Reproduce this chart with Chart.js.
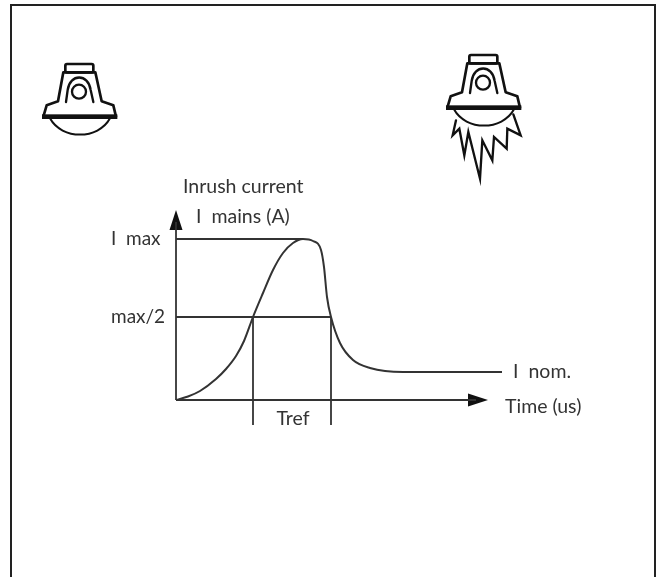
<!DOCTYPE html>
<html>
<head>
<meta charset="utf-8">
<title>Inrush current</title>
<script src="https://cdn.jsdelivr.net/npm/chart.js@4"></script>
<style>
    html, body { margin: 0; padding: 0; background: #fff; }
    canvas { display: block; }
</style>
</head>
<body>
<canvas id="inrushChart" width="661" height="577"></canvas>
<script>
// Curve (arbitrary units, as the source has no scale)
const curveTime = [0, 12, 24, 40, 50, 60, 68, 77, 87, 97, 107, 117, 127, 137, 145, 148, 151, 155, 164, 177, 194, 227, 326];
const curveCurrent = [0, 3.5, 9, 21, 31, 44, 59, 83, 107, 130, 147, 157, 161, 159, 150, 133, 103, 83, 57, 40, 32, 28, 28];

const iMax = 161;
const iHalf = 83;
const tRiseHalf = 77;
const tFallHalf = 155;
const iNom = 28;
const axisEndTime = 300;
const axisEndCurrent = 178;
const guideBottom = -25;

const yTickValues = [iHalf, iMax];
const yTickLabels = ['max/2', 'I  max'];

const textColor = '#333';
const lineColor = '#333';
const labelFont = "19.5px Lato, 'Open Sans', sans-serif";

// Arrow head used as a point style, pointing right before rotation
function makeArrowHead() {
    const c = document.createElement('canvas');
    c.width = 20;
    c.height = 20;
    const g = c.getContext('2d');
    g.fillStyle = '#111';
    g.beginPath();
    g.moveTo(0, 3.5);
    g.lineTo(20, 10);
    g.lineTo(0, 16.5);
    g.closePath();
    g.fill();
    return c;
}
const arrowHead = makeArrowHead();

// Lamp outline, in units of 1/3 px
function drawLamp(ctx, dx, dy, sparks) {
    ctx.save();
    ctx.translate(dx, dy);
    ctx.scale(1 / 3, 1 / 3);
    ctx.strokeStyle = '#111';
    ctx.fillStyle = '#111';
    ctx.lineJoin = 'round';
    ctx.lineCap = 'round';
    ctx.lineWidth = 8;

    // cap
    ctx.beginPath();
    ctx.roundRect(136, 72, 84, 25, 5);
    ctx.stroke();

    // body and flange
    ctx.beginPath();
    ctx.moveTo(70, 230);
    ctx.lineTo(80, 196);
    ctx.lineTo(114, 184);
    ctx.lineTo(130, 97);
    ctx.lineTo(226, 97);
    ctx.lineTo(245, 184);
    ctx.lineTo(280, 196);
    ctx.lineTo(288, 230);
    ctx.stroke();

    // inner arch
    ctx.lineWidth = 7;
    ctx.beginPath();
    ctx.moveTo(138, 186);
    ctx.lineTo(143, 150);
    ctx.bezierCurveTo(150, 100, 205, 100, 212, 150);
    ctx.lineTo(220, 186);
    ctx.stroke();
    ctx.beginPath();
    ctx.arc(177, 155, 21, 0, Math.PI * 2);
    ctx.stroke();

    // thick bar
    ctx.fillRect(66, 223, 226, 14);

    // dome
    ctx.lineWidth = 6;
    ctx.beginPath();
    ctx.moveTo(90, 235);
    ctx.bezierCurveTo(125, 300, 235, 300, 270, 235);
    ctx.stroke();

    if (sparks) {
        ctx.lineWidth = 7;
        ctx.lineJoin = 'miter';
        ctx.beginPath();
        ctx.moveTo(96, 268);
        ctx.lineTo(86, 313);
        ctx.lineTo(106, 293);
        ctx.lineTo(121, 373);
        ctx.lineTo(133, 303);
        ctx.lineTo(168, 443);
        ctx.lineTo(175, 328);
        ctx.lineTo(205, 388);
        ctx.lineTo(210, 318);
        ctx.lineTo(248, 353);
        ctx.lineTo(250, 293);
        ctx.lineTo(290, 313);
        ctx.lineTo(268, 250);
        ctx.stroke();
    }
    ctx.restore();
}

const decorations = {
    id: 'decorations',
    afterDraw(chart) {
        const ctx = chart.ctx;
        const x = chart.scales.x;
        const y = chart.scales.y;

        // frame, open at the bottom
        ctx.save();
        ctx.strokeStyle = '#222';
        ctx.lineWidth = 2;
        ctx.beginPath();
        ctx.moveTo(11, 577);
        ctx.lineTo(11, 5);
        ctx.lineTo(655, 5);
        ctx.lineTo(655, 577);
        ctx.stroke();
        ctx.restore();

        drawLamp(ctx, 20, 40, false);
        drawLamp(ctx, 424, 31, true);

        ctx.save();
        ctx.fillStyle = textColor;
        ctx.font = labelFont;
        ctx.textBaseline = 'middle';
        ctx.textAlign = 'left';
        ctx.fillText('Inrush current', 183, 187);
        ctx.fillText('I  mains (A)', 196, 217);
        ctx.fillText('I  nom.', x.getPixelForValue(337), y.getPixelForValue(iNom));
        ctx.fillText('Time (us)', 505, 407);
        ctx.textAlign = 'center';
        ctx.fillText('Tref', x.getPixelForValue((tRiseHalf + tFallHalf) / 2 + 1), 419);
        ctx.restore();
    }
};

function guide(times, currents) {
    return {
        data: times.map((t, i) => ({ x: t, y: currents[i] })),
        borderColor: lineColor,
        borderWidth: 1.8,
        pointRadius: 0,
        tension: 0,
        clip: false
    };
}

new Chart(document.getElementById('inrushChart'), {
    type: 'line',
    data: {
        datasets: [
            {
                data: curveTime.map((t, i) => ({ x: t, y: curveCurrent[i] })),
                borderColor: lineColor,
                borderWidth: 2,
                pointRadius: 0,
                cubicInterpolationMode: 'monotone',
                clip: false
            },
            guide([0, 127], [iMax, iMax]),
            guide([0, tFallHalf], [iHalf, iHalf]),
            guide([tRiseHalf, tRiseHalf], [iHalf, guideBottom]),
            guide([tFallHalf, tFallHalf], [iHalf, guideBottom]),
            guide([0, axisEndTime], [0, 0]),
            guide([0, 0], [0, axisEndCurrent]),
            {
                data: [{ x: axisEndTime + 2, y: 0 }, { x: 0, y: axisEndCurrent + 2 }],
                showLine: false,
                pointStyle: arrowHead,
                pointRotation: [0, -90],
                pointRadius: 10,
                clip: false
            }
        ]
    },
    options: {
        responsive: false,
        animation: false,
        layout: { padding: { left: 111, right: 155, top: 200, bottom: 147 } },
        plugins: { legend: { display: false }, tooltip: { enabled: false } },
        scales: {
            x: { type: 'linear', display: false, min: 0, max: 330 },
            y: {
                type: 'linear',
                min: -30,
                max: 200,
                grid: { display: false },
                border: { display: false },
                afterFit(scale) { scale.width = 65; },
                afterBuildTicks(scale) {
                    scale.ticks = yTickValues.map(v => ({ value: v }));
                },
                ticks: {
                    crossAlign: 'far',
                    color: textColor,
                    font: { family: "Lato, 'Open Sans', sans-serif", size: 19 },
                    callback: (v, i) => yTickLabels[i]
                }
            }
        }
    },
    plugins: [decorations]
});
</script>
</body>
</html>
